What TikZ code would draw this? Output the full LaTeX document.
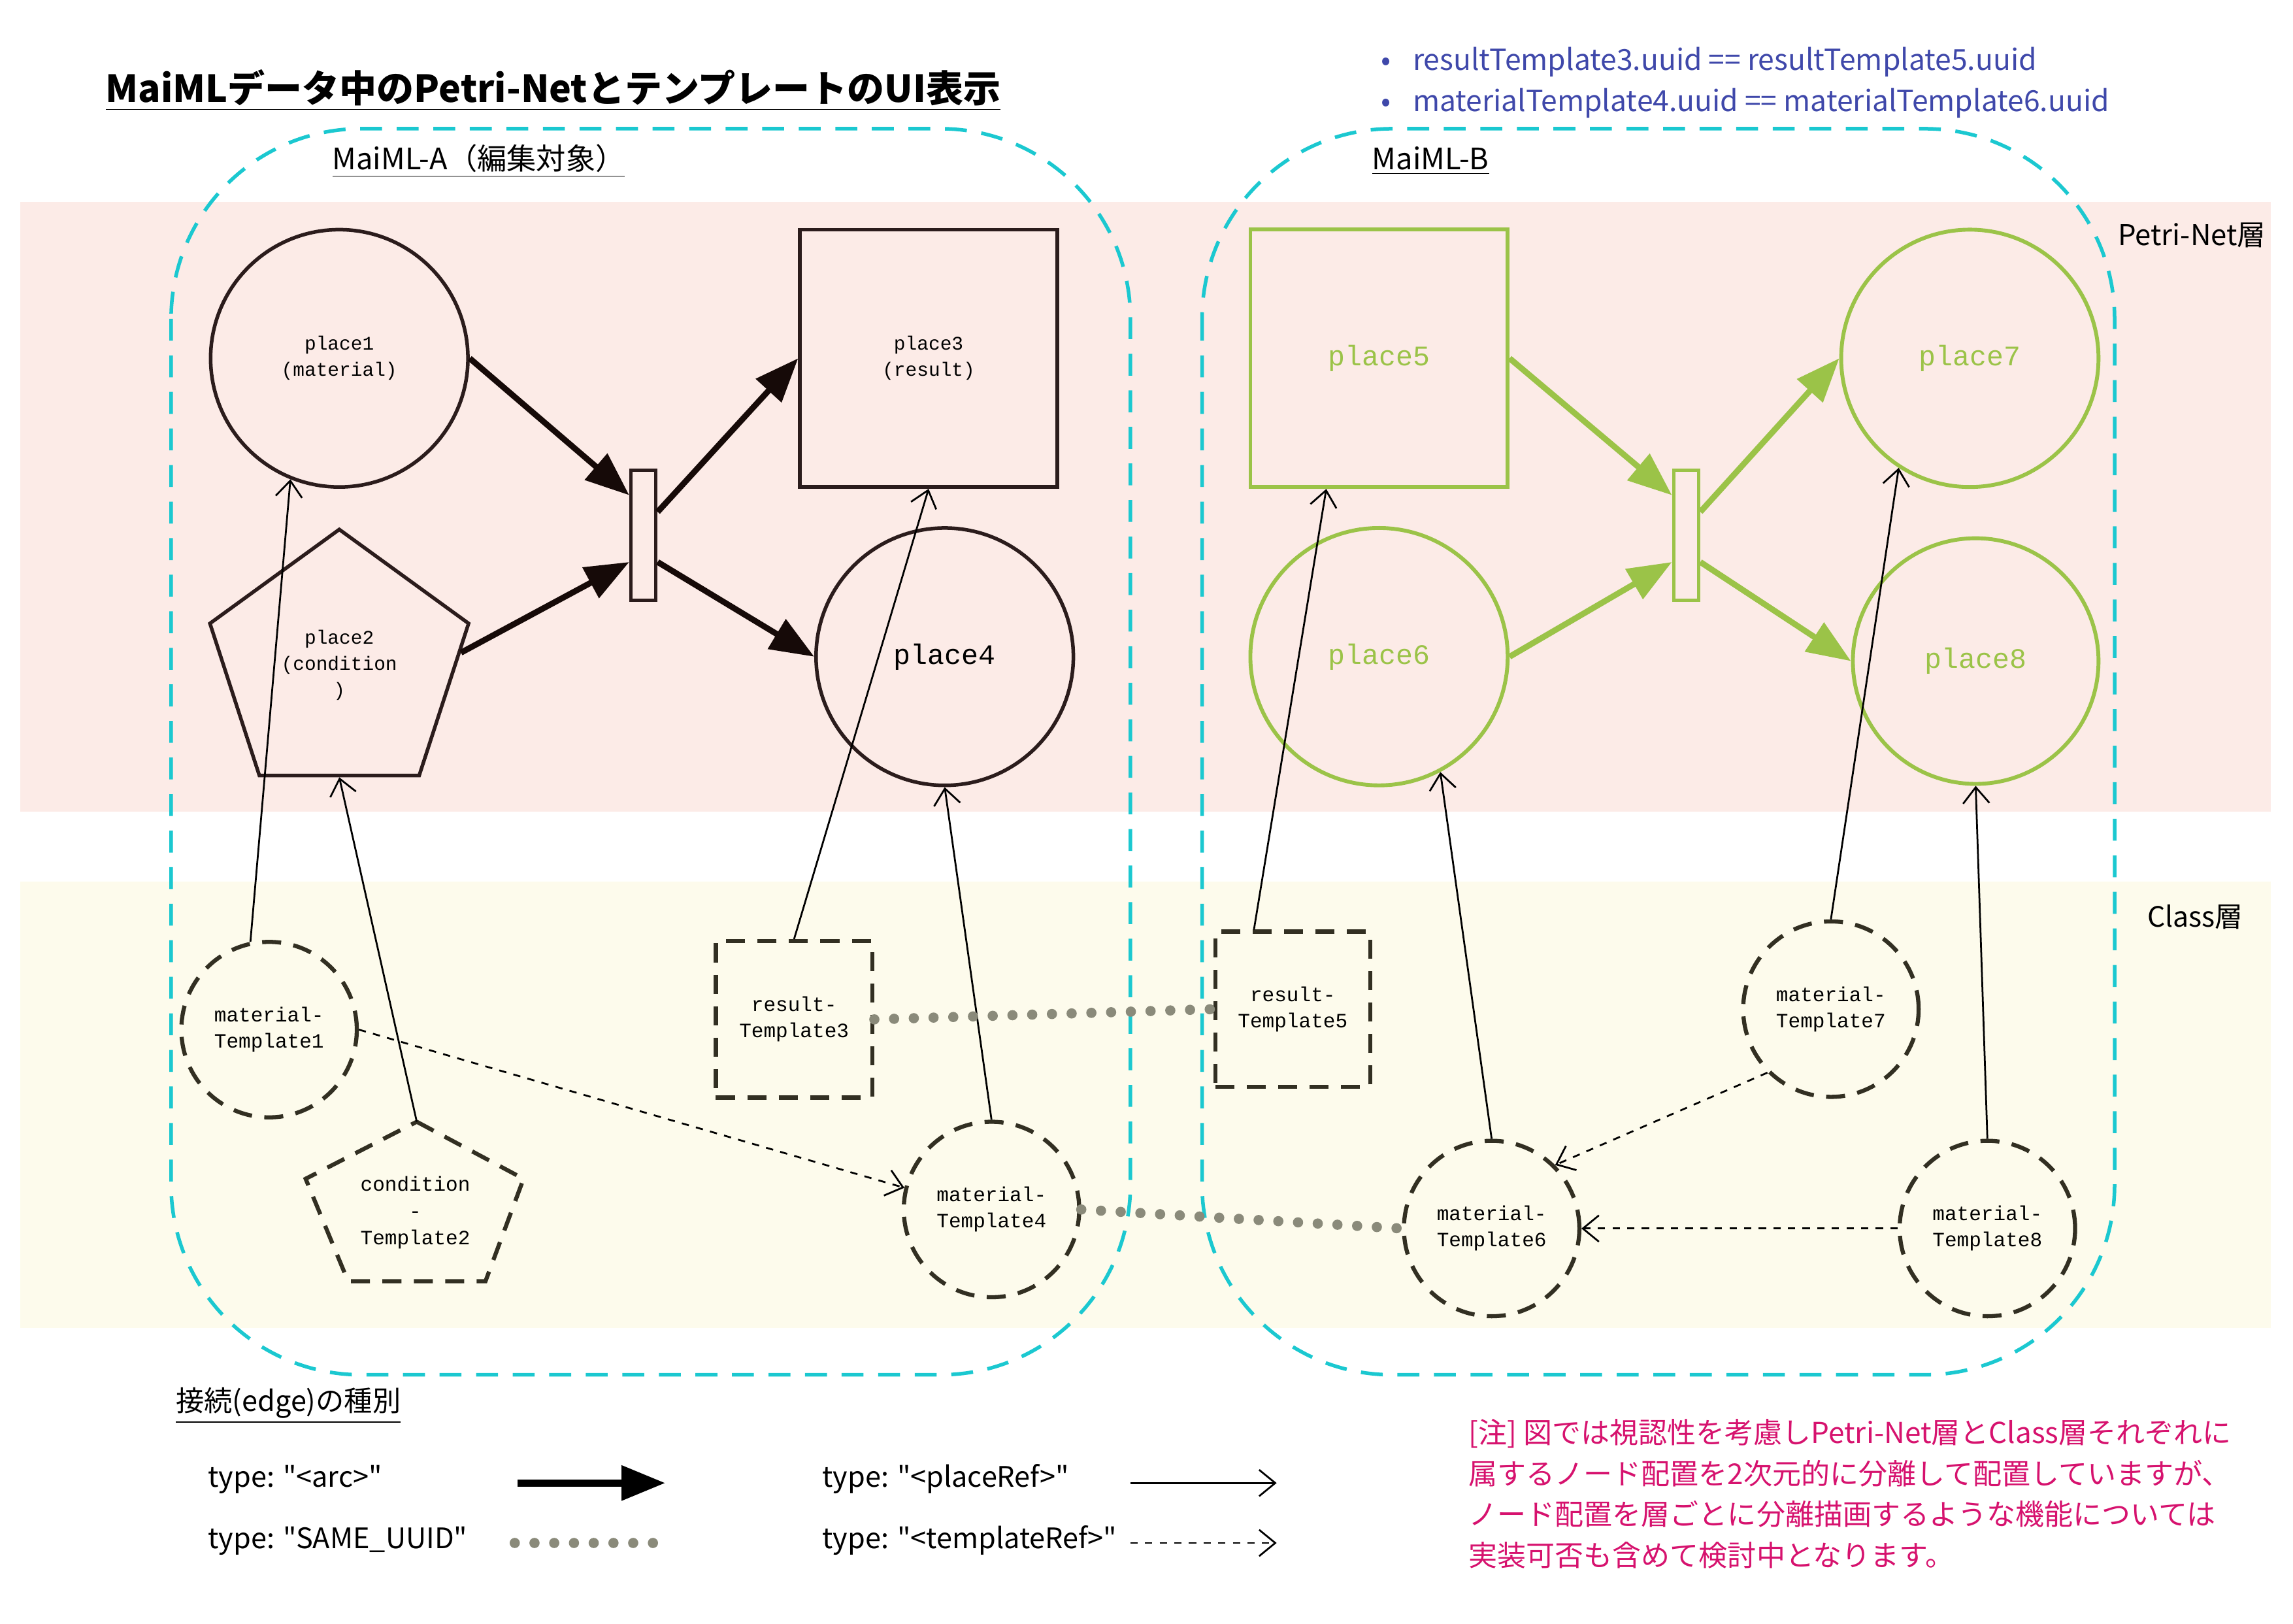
\documentclass[tikz,border=0pt]{standalone}
\usepackage{fontspec}
\setmainfont{Noto Sans CJK JP}[Ligatures=TeXOff]
\setmonofont{Liberation Mono}
\usetikzlibrary{shapes.geometric,arrows.meta,calc}

\definecolor{petribg}{RGB}{252,235,231}
\definecolor{classbg}{RGB}{253,251,236}
\definecolor{boxcyan}{RGB}{27,200,208}
\definecolor{placeline}{RGB}{43,28,28}
\definecolor{arcline}{RGB}{22,10,8}
\definecolor{bgreen}{RGB}{155,195,72}
\definecolor{classline}{RGB}{50,47,34}
\definecolor{uuidgrey}{RGB}{138,138,122}
\definecolor{notegblue}{RGB}{63,72,170}
\definecolor{notered}{RGB}{214,18,110}

\begin{document}
\begin{tikzpicture}[x=0.02cm,y=-0.02cm,
    placeA/.style={draw=placeline,line width=1.4pt,inner sep=0pt,align=center,
        font=\ttfamily\fontsize{7.5}{10.2}\selectfont},
    placeB/.style={draw=bgreen,line width=1.5pt,inner sep=0pt,text=bgreen,
        font=\ttfamily\fontsize{11}{13}\selectfont},
    transA/.style={draw=placeline,line width=1.4pt,fill=petribg,inner sep=0pt,
        minimum width=0.34cm,minimum height=1.78cm},
    transB/.style={transA,draw=bgreen},
    classnode/.style={draw=classline,line width=1.6pt,dash pattern=on 0.26cm off 0.17cm,
        inner sep=0pt,align=center,font=\ttfamily\fontsize{7.9}{10.2}\selectfont},
    arc/.style={line width=2.3pt,draw=arcline,-{Triangle[length=0.6cm,width=0.46cm]}},
    arcB/.style={arc,draw=bgreen,-{Triangle[length=0.6cm,width=0.46cm,fill=bgreen]}},
    placeref/.style={line width=0.7pt,-{Straight Barb[length=0.22cm,width=0.36cm]}},
    templref/.style={placeref,dash pattern=on 0.1cm off 0.1cm},
    sameuuid/.style={uuidgrey,line width=0.14cm,line cap=round,dash pattern=on 0pt off 0.27cm},
    container/.style={boxcyan,line width=1.4pt,dash pattern=on 0.3cm off 0.2cm,rounded corners=2.6cm},
    label/.style={inner sep=0pt,anchor=base west,font=\fontsize{11.3}{13}\selectfont}
]
\useasboundingbox (0,0) rectangle (1568,1110);

% Layers
\fill[petribg] (14,138) rectangle (1553,555);
\fill[classbg] (14,603) rectangle (1553,908);

% Title and notes
\node[label,font=\bfseries\fontsize{14.5}{17}\selectfont] (title) at (72,70)
    {\underline{MaiMLデータ中のPetri-NetとテンプレートのUI表示}};
\node[label,text=notegblue] (bul1) at (944,48) {•\hspace{0.3cm}resultTemplate3.uuid == resultTemplate5.uuid};
\node[label,text=notegblue] (bul2) at (944,76) {•\hspace{0.3cm}materialTemplate4.uuid == materialTemplate6.uuid};

% MaiML containers
\draw[container] (117,88) rectangle (773,940);
\draw[container] (822,88) rectangle (1446,940);
\node[label,font=\fontsize{11.5}{13}\selectfont] (labA) at (227,116) {\underline{MaiML-A（編集対象）}};
\node[label,font=\fontsize{11.5}{13}\selectfont] (labB) at (938,116) {\underline{MaiML-B}};
\node[label,font=\fontsize{11.1}{13}\selectfont] (petriL) at (1448,168) {Petri-Net層};
\node[label,font=\fontsize{10.9}{13}\selectfont] (classL) at (1468,634) {Class層};

% Petri-Net nodes for MaiML-A
\node[placeA,circle,minimum size=3.52cm] (place1) at (232,245) {place1\\(material)};
\node[placeA,regular polygon,regular polygon sides=5,minimum size=3.72cm] (place2) at (232,455) {place2\\(condition\\)};
\node[placeA,rectangle,minimum size=3.52cm] (place3) at (635,245) {place3\\(result)};
\node[placeA,circle,minimum size=3.52cm,font=\ttfamily\fontsize{11}{13}\selectfont] (place4) at (646,449) {place4};
\node[transA] (tA) at (440,366) {};

% Petri-Net nodes for MaiML-B
\node[placeB,rectangle,minimum size=3.52cm] (place5) at (943,245) {place5};
\node[placeB,circle,minimum size=3.52cm] (place6) at (943,449) {place6};
\node[placeB,circle,minimum size=3.52cm] (place7) at (1347,245) {place7};
\node[placeB,circle,minimum size=3.36cm] (place8) at (1351,452) {place8};
\node[transB] (tB) at (1153,366) {};

% Arcs
\draw[arc] (place1.east) -- ($(tA.west)!0.6!(tA.north west)$);
\draw[arc] (place2.6) -- ($(tA.west)!0.4!(tA.south west)$);
\draw[arc] ($(tA.east)!0.35!(tA.north east)$) -- (place3.west);
\draw[arc] ($(tA.east)!0.4!(tA.south east)$) -- (place4.west);
\draw[arcB] (place5.east) -- ($(tB.west)!0.6!(tB.north west)$);
\draw[arcB] (place6.east) -- ($(tB.west)!0.4!(tB.south west)$);
\draw[arcB] ($(tB.east)!0.35!(tB.north east)$) -- (place7.west);
\draw[arcB] ($(tB.east)!0.4!(tB.south east)$) -- (place8.west);

% Class nodes
\node[classnode,circle,minimum size=2.4cm] (mT1) at (184,704) {material-\\Template1};
\node[inner sep=0pt,align=center,font=\ttfamily\fontsize{7.9}{10.4}\selectfont] (cT2) at (284,829) {condition\\-\\Template2};
\draw[classline,line width=1.6pt,dash pattern=on 0.26cm off 0.17cm]
    (285,767) -- (358,806) -- (332,876) -- (238,876) -- (209,806) -- cycle;
\coordinate (cT2top) at (285,767);
\node[classnode,rectangle,minimum size=2.14cm] (rT3) at (543,697) {result-\\Template3};
\node[classnode,circle,minimum size=2.4cm] (mT4) at (678,827) {material-\\Template4};
\node[classnode,rectangle,minimum size=2.12cm] (rT5) at (884,690) {result-\\Template5};
\node[classnode,circle,minimum size=2.4cm] (mT6) at (1020,840) {material-\\Template6};
\node[classnode,circle,minimum size=2.4cm] (mT7) at (1252,690) {material-\\Template7};
\node[classnode,circle,minimum size=2.4cm] (mT8) at (1359,840) {material-\\Template8};

% placeRef edges
\draw[placeref] (mT1.102) -- (place1.248);
\draw[placeref] (cT2top) -- (place2.south);
\draw[placeref] (rT3.north) -- (place3.south);
\draw[placeref] (mT4.north) -- (place4.south);
\draw[placeref] (rT5.116) -- (place5.248);
\draw[placeref] (mT6.north) -- (place6.298);
\draw[placeref] (mT7.north) -- (place7.237);
\draw[placeref] (mT8.north) -- (place8.south);

% templateRef edges
\draw[templref] (mT1.east) -- (mT4.166);
\draw[templref] (mT7.225) -- (mT6.45);
\draw[templref] (mT8.west) -- (mT6.east);

% SAME_UUID edges
\draw[sameuuid] (rT3.east) -- (rT5.west);
\draw[sameuuid] (mT4.east) -- (mT6.west);

% Legend
\node[label,font=\fontsize{11}{13}\selectfont] (legT) at (120,965) {\underline{接続(edge)の種別}};
\node[label,font=\fontsize{11}{13}\selectfont] (legArc) at (142,1017) {type: "<arc>"};
\node[label,font=\fontsize{11}{13}\selectfont] (legUuid) at (142,1059) {type: "SAME\_UUID"};
\node[label,font=\fontsize{11}{13}\selectfont] (legPref) at (562,1017) {type: "<placeRef>"};
\node[label,font=\fontsize{11}{13}\selectfont] (legTref) at (562,1059) {type: "<templateRef>"};
\coordinate (arcS) at (354,1014);
\coordinate (arcE) at (455,1014);
\coordinate (uuidS) at (352,1055);
\coordinate (uuidE) at (455,1055);
\coordinate (prefS) at (773,1014);
\coordinate (prefE) at (873,1014);
\coordinate (trefS) at (773,1055);
\coordinate (trefE) at (873,1055);
\draw[arc,draw=black,line width=2.8pt] (arcS) -- (arcE);
\draw[sameuuid] (uuidS) -- (uuidE);
\draw[placeref] (prefS) -- (prefE);
\draw[templref] (trefS) -- (trefE);

% Note
\node[inner sep=0pt,anchor=north west,align=left,text=notered,font=\fontsize{11.2}{15.9}\selectfont] (note) at (1004,970)
    {[注] 図では視認性を考慮しPetri-Net層とClass層それぞれに\\
     属するノード配置を2次元的に分離して配置していますが、\\
     ノード配置を層ごとに分離描画するような機能については\\
     実装可否も含めて検討中となります。};
\end{tikzpicture}
\end{document}
